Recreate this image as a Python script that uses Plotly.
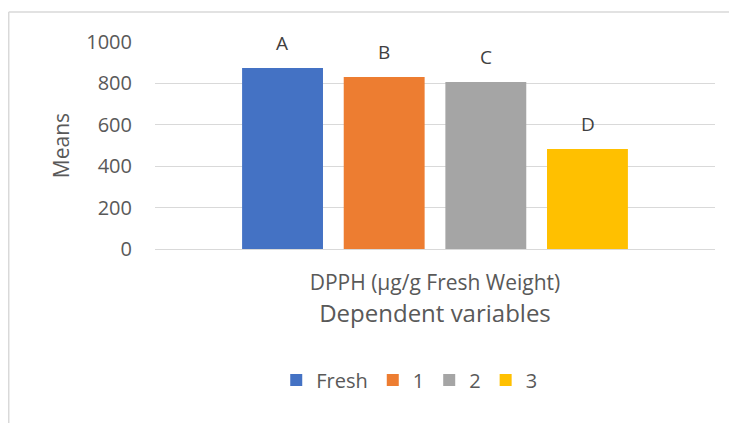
import plotly.graph_objects as go

category = ["DPPH (µg/g Fresh Weight)"]
series_names = ["Fresh", "1", "2", "3"]
series_values = [874, 831, 807, 483]
letters = ["A", "B", "C", "D"]
colors = ["#4472C4", "#ED7D31", "#A5A5A5", "#FFC000"]

FONT = "Open Sans, Lato, sans-serif"
GRAY = "#595959"

fig = go.Figure()
for name, val, col in zip(series_names, series_values, colors):
    fig.add_trace(go.Bar(x=category, y=[val], name=name, marker_color=col,
                         marker_line_width=0, hoverinfo="skip"))

slot_px = 101.7
for i, (val, lab) in enumerate(zip(series_values, letters)):
    fig.add_annotation(x=category[0], y=val, xref="x", yref="y", text=lab,
                       showarrow=False, xshift=(i - 1.5) * slot_px, yshift=25,
                       font=dict(family=FONT, size=19, color="#404040"))

# outer chart border (partial, cropped)
fig.add_shape(type="line", xref="paper", yref="paper", x0=-0.2612, x1=1.2,
              y0=1.145, y1=1.145, line=dict(color="#d9d9d9", width=1.5))
fig.add_shape(type="line", xref="paper", yref="paper", x0=-0.2612, x1=-0.2612,
              y0=1.145, y1=-1.0, line=dict(color="#d9d9d9", width=1.5))

fig.update_layout(
    width=729, height=415,
    margin=dict(l=147, r=22, t=34, b=174),
    paper_bgcolor="white", plot_bgcolor="white",
    barmode="group", bargap=0.274, bargroupgap=0.204,
    font=dict(family=FONT, color=GRAY, size=20),
    showlegend=True,
    legend=dict(orientation="h", x=0.454, xanchor="center", y=-0.633, yanchor="middle",
                font=dict(family=FONT, size=20, color=GRAY), traceorder="normal"),
)
fig.update_xaxes(showgrid=False, showline=False, zeroline=False, ticks="",
                 tickfont=dict(family=FONT, size=21, color=GRAY), ticklabelstandoff=19,
                 title=dict(text="Dependent variables", font=dict(family=FONT, size=24, color=GRAY),
                            standoff=6))
fig.update_yaxes(range=[0, 1000], dtick=200, showgrid=True, gridcolor="#d9d9d9", gridwidth=1,
                 zeroline=True, zerolinecolor="#d9d9d9", zerolinewidth=1, showline=False, ticks="",
                 tickfont=dict(family=FONT, size=20, color=GRAY), ticklabelstandoff=22,
                 title=dict(text="Means", font=dict(family=FONT, size=21, color=GRAY), standoff=10))

fig.write_html("out.html")
